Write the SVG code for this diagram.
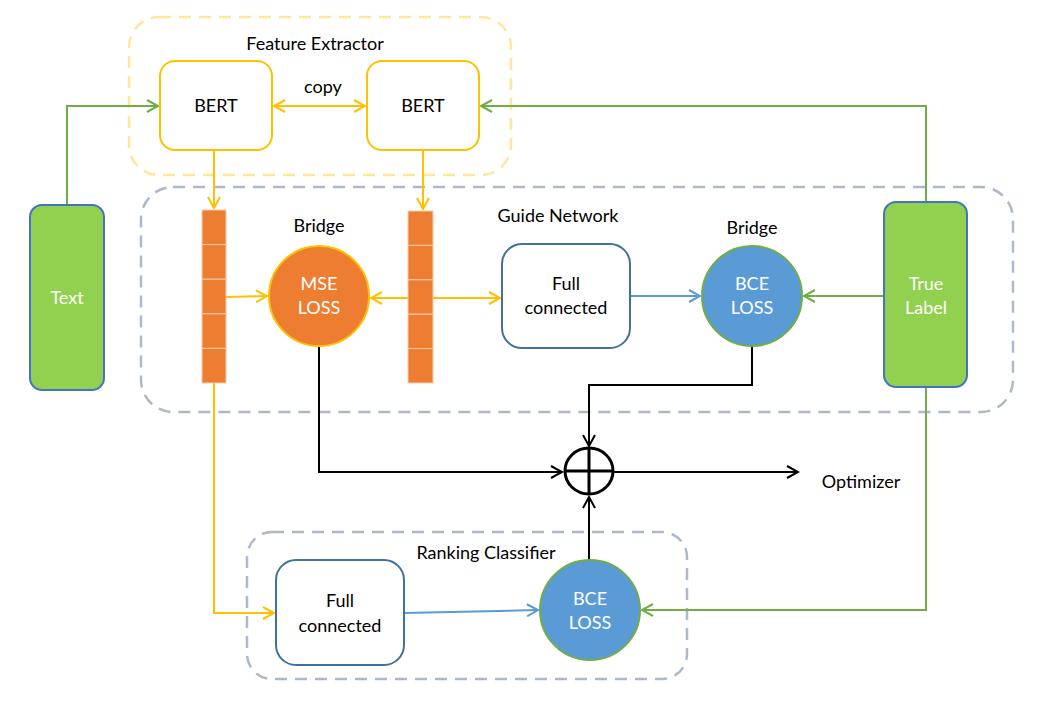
<svg xmlns="http://www.w3.org/2000/svg" width="1053" height="708" viewBox="0 0 1053 708">
<style>
text{font-family:Lato,"Liberation Sans",sans-serif;font-size:18px;fill:#000;text-anchor:middle}
.w{fill:#fff}
.grp{fill:none;stroke-width:2.5;stroke-dasharray:12 8}
.y{stroke:#FFC000;stroke-width:2;fill:none}
.g{stroke:#70AD47;stroke-width:2;fill:none}
.b{stroke:#5B9BD5;stroke-width:2;fill:none}
.k{stroke:#000;stroke-width:2;fill:none}
.seg{fill:#ED7D31;stroke:#F8CBAD;stroke-width:1}
</style>
<defs>
<marker id="ay" viewBox="0 0 14 14" refX="12" refY="7" markerWidth="14" markerHeight="14" markerUnits="userSpaceOnUse" orient="auto-start-reverse"><path d="M1,1 L12,7 L1,13" fill="none" stroke="#FFC000" stroke-width="2"/></marker>
<marker id="ag" viewBox="0 0 14 14" refX="12" refY="7" markerWidth="14" markerHeight="14" markerUnits="userSpaceOnUse" orient="auto-start-reverse"><path d="M1,1 L12,7 L1,13" fill="none" stroke="#70AD47" stroke-width="2"/></marker>
<marker id="ab" viewBox="0 0 14 14" refX="12" refY="7" markerWidth="14" markerHeight="14" markerUnits="userSpaceOnUse" orient="auto-start-reverse"><path d="M1,1 L12,7 L1,13" fill="none" stroke="#5B9BD5" stroke-width="2"/></marker>
<marker id="ak" viewBox="0 0 14 14" refX="12" refY="7" markerWidth="14" markerHeight="14" markerUnits="userSpaceOnUse" orient="auto-start-reverse"><path d="M1,1 L12,7 L1,13" fill="none" stroke="#000" stroke-width="2"/></marker>
</defs>
<rect width="1053" height="708" fill="#fff"/>

<g id="feature-extractor">
<rect class="grp" x="129" y="17" width="382" height="158" rx="30" stroke="#FFE699"/>
<text x="315" y="50">Feature Extractor</text>
</g>
<g id="guide-network">
<rect class="grp" x="141" y="187" width="872" height="225" rx="32" stroke="#ADB9CA"/>
<text x="558" y="222">Guide Network</text>
</g>
<g id="ranking-classifier">
<rect class="grp" x="247" y="532" width="440" height="147" rx="25" stroke="#ADB9CA"/>
<text x="486" y="559">Ranking Classifier</text>
</g>

<g id="connectors">
<path class="g" d="M67,205 V106 H158" marker-end="url(#ag)"/>
<path class="g" d="M926,202 V106 H481" marker-end="url(#ag)"/>
<path class="y" d="M274,106 H365" marker-start="url(#ay)" marker-end="url(#ay)"/>
<path class="y" d="M214,150 V208"  marker-end="url(#ay)"/>
<path class="y" d="M423,150 V209" marker-end="url(#ay)"/>
<path class="y" d="M226,297 L267,296" marker-end="url(#ay)"/>
<path class="y" d="M408,298 H371" marker-end="url(#ay)"/>
<path class="y" d="M433,298 H500" marker-end="url(#ay)"/>
<path class="b" d="M630,296 H700" marker-end="url(#ab)"/>
<path class="g" d="M884,296 H804" marker-end="url(#ag)"/>
<path class="k" d="M319,346 V472 H562" marker-end="url(#ak)"/>
<path class="k" d="M752,346 V385 H589 V446" marker-end="url(#ak)"/>
<path class="k" d="M589,560 V497" marker-end="url(#ak)"/>
<path class="k" d="M614,472 H798" marker-end="url(#ak)"/>
<path class="y" d="M214,383 V613 H274" marker-end="url(#ay)"/>
<path class="b" d="M404,613 L538,610" marker-end="url(#ab)"/>
<path class="g" d="M926,387 V610 H642" marker-end="url(#ag)"/>
</g>

<g id="text-node">
<rect x="30" y="205" width="74" height="185" rx="12" fill="#92D050" stroke="#4472C4" stroke-width="2"/>
<text class="w" x="67" y="304">Text</text>
</g>
<g id="bert1">
<rect x="160" y="61" width="112" height="89" rx="15" fill="#fff" stroke="#FFC000" stroke-width="2"/>
<text x="216" y="112">BERT</text>
</g>
<g id="bert2">
<rect x="367" y="61" width="112" height="89" rx="15" fill="#fff" stroke="#FFC000" stroke-width="2"/>
<text x="423" y="112">BERT</text>
</g>
<text x="323" y="93">copy</text>

<g id="vector-left">
<rect class="seg" x="202" y="210" width="24" height="34.6"/>
<rect class="seg" x="202" y="244.6" width="24" height="34.6"/>
<rect class="seg" x="202" y="279.2" width="24" height="34.6"/>
<rect class="seg" x="202" y="313.8" width="24" height="34.6"/>
<rect class="seg" x="202" y="348.4" width="24" height="34.6"/>
</g>
<g id="vector-right">
<rect class="seg" x="408" y="211" width="25" height="34.4"/>
<rect class="seg" x="408" y="245.4" width="25" height="34.4"/>
<rect class="seg" x="408" y="279.8" width="25" height="34.4"/>
<rect class="seg" x="408" y="314.2" width="25" height="34.4"/>
<rect class="seg" x="408" y="348.6" width="25" height="34.4"/>
</g>

<g id="mse-loss">
<text x="319" y="232">Bridge</text>
<circle cx="319" cy="296" r="50" fill="#ED7D31" stroke="#FFC000" stroke-width="2"/>
<text class="w" x="319" y="290">MSE</text>
<text class="w" x="319" y="314">LOSS</text>
</g>
<g id="fc-guide">
<rect x="502" y="244" width="128" height="104" rx="20" fill="#fff" stroke="#41719C" stroke-width="2"/>
<text x="566" y="290">Full</text>
<text x="566" y="314">connected</text>
</g>
<g id="bce-guide">
<text x="752" y="234">Bridge</text>
<circle cx="752" cy="296" r="50" fill="#5B9BD5" stroke="#70AD47" stroke-width="2"/>
<text class="w" x="752" y="290">BCE</text>
<text class="w" x="752" y="314">LOSS</text>
</g>
<g id="true-label">
<rect x="884" y="202" width="83" height="185" rx="12" fill="#92D050" stroke="#4472C4" stroke-width="2"/>
<text class="w" x="926" y="290">True</text>
<text class="w" x="926" y="314">Label</text>
</g>
<g id="sum">
<ellipse cx="589" cy="471" rx="24" ry="23" fill="#fff" stroke="#000" stroke-width="3"/>
<path d="M565,471 H613 M589,448 V494" stroke="#000" stroke-width="3"/>
</g>
<g id="optimizer">
<text x="861" y="488">Optimizer</text>
</g>
<g id="fc-rank">
<rect x="276" y="560" width="128" height="105" rx="20" fill="#fff" stroke="#41719C" stroke-width="2"/>
<text x="340" y="607">Full</text>
<text x="340" y="632">connected</text>
</g>
<g id="bce-rank">
<circle cx="590" cy="610" r="50" fill="#5B9BD5" stroke="#70AD47" stroke-width="2"/>
<text class="w" x="590" y="605">BCE</text>
<text class="w" x="590" y="629">LOSS</text>
</g>
</svg>
